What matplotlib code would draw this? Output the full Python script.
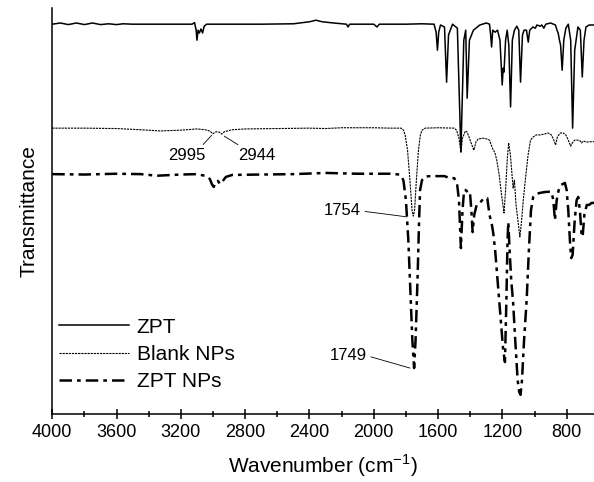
import matplotlib.pyplot as plt
from matplotlib.ticker import MultipleLocator

plt.rcParams['font.family'] = ['Liberation Sans', 'DejaVu Sans']
plt.rcParams['axes.unicode_minus'] = False

# Wavenumber (cm-1) and transmittance (a.u., offset spectra)
zpt_wn = [4000, 3950, 3900, 3850, 3800, 3750, 3700, 3650, 3600, 3560, 3500, 3400,
          3300, 3200, 3130, 3115, 3105, 3100, 3093, 3085, 3075, 3065, 3055, 3040,
          2900, 2700, 2500, 2400, 2360, 2320, 2250, 2170, 2160, 2150, 2000, 1980,
          1965, 1800, 1700, 1625, 1612, 1604, 1596, 1585, 1560, 1547, 1535, 1510,
          1480, 1458, 1440, 1428, 1419, 1405, 1380, 1340, 1300, 1280, 1273, 1267,
          1260, 1245, 1230, 1215, 1201, 1195, 1190, 1180, 1170, 1160, 1149, 1138,
          1125, 1110, 1098, 1087, 1075, 1065, 1050, 1039, 1030, 1010, 995, 985,
          965, 955, 942, 930, 900, 870, 860, 853, 845, 838, 828, 818, 805, 790,
          775, 763, 750, 730, 715, 703, 692, 680, 660, 640, 630]
zpt_t = [97.5, 97.8, 97.4, 97.8, 97.4, 97.8, 97.4, 97.6, 97.4, 97.6, 97.5, 97.5,
         97.5, 97.5, 97.5, 97.9, 96.0, 93.5, 96.0, 95.3, 96.3, 95.3, 97.0, 97.5,
         97.5, 97.5, 97.6, 98.1, 98.5, 98.1, 97.8, 97.5, 96.8, 97.5, 97.5, 96.8,
         97.5, 97.5, 97.6, 97.5, 95.5, 91.0, 95.5, 97.3, 96.8, 83.0, 94.8, 97.5,
         96.5, 65.5, 93.5, 96.0, 79.0, 93.5, 96.0, 97.3, 97.8, 97.5, 94.8, 91.8,
         96.0, 95.5, 96.0, 93.5, 82.3, 86.5, 85.5, 93.5, 96.0, 92.3, 76.8, 93.5,
         96.0, 97.0, 96.0, 83.0, 94.8, 96.0, 96.0, 93.0, 96.0, 96.8, 96.5, 97.3,
         97.0, 97.3, 96.5, 97.5, 97.8, 97.3, 96.0, 95.3, 93.5, 92.3, 86.0, 93.5,
         96.5, 97.5, 93.5, 71.5, 91.0, 96.8, 96.0, 84.3, 93.5, 96.8, 97.3, 97.3, 97.3]

blank_wn = [4000, 3800, 3600, 3450, 3330, 3200, 3100, 3050, 3020, 3002, 2980, 2960,
            2946, 2930, 2880, 2800, 2600, 2400, 2300, 2200, 2000, 1900, 1830, 1815,
            1805, 1790, 1775, 1762, 1754, 1746, 1735, 1722, 1710, 1700, 1680, 1600,
            1500, 1485, 1470, 1458, 1448, 1430, 1419, 1405, 1390, 1377, 1365, 1350,
            1320, 1298, 1280, 1262, 1246, 1235, 1220, 1205, 1190, 1180, 1170, 1161,
            1150, 1140, 1133, 1125, 1115, 1100, 1091, 1080, 1070, 1056, 1040, 1025,
            1008, 990, 967, 940, 915, 895, 880, 869, 858, 840, 822, 805, 790, 775,
            765, 750, 728, 715, 707, 695, 680, 655, 630]
blank_t = [71.5, 71.5, 71.4, 71.1, 70.8, 71.0, 71.3, 71.1, 70.8, 70.1, 70.6, 70.5,
           70.0, 70.6, 71.1, 71.3, 71.4, 71.5, 71.4, 71.6, 71.6, 71.5, 71.5, 71.0,
           69.8, 66.0, 58.5, 51.0, 49.5, 51.0, 58.5, 66.0, 69.8, 71.0, 71.5, 71.6,
           71.5, 71.0, 69.0, 65.5, 69.0, 70.8, 70.5, 69.0, 67.3, 66.0, 68.0, 68.8,
           69.0, 68.8, 68.5, 66.5, 65.3, 63.5, 59.8, 54.8, 50.3, 56.0, 63.5, 67.8,
           64.8, 59.8, 56.5, 58.5, 52.3, 47.3, 44.3, 48.5, 53.5, 59.0, 64.8, 68.5,
           69.3, 69.8, 69.8, 70.0, 70.3, 69.8, 68.5, 67.3, 69.3, 70.3, 70.3, 69.8,
           68.5, 67.0, 67.8, 68.5, 68.5, 68.3, 67.8, 68.3, 68.0, 68.1, 68.1]

nps_wn = [4000, 3800, 3600, 3450, 3350, 3200, 3100, 3040, 3020, 3005, 2995, 2985,
          2970, 2955, 2945, 2920, 2880, 2700, 2500, 2300, 2100, 1900, 1840, 1825,
          1815, 1800, 1785, 1770, 1760, 1749, 1740, 1728, 1718, 1712, 1700, 1680,
          1650, 1600, 1560, 1547, 1530, 1500, 1483, 1470, 1458, 1448, 1438, 1428,
          1415, 1402, 1393, 1385, 1375, 1360, 1340, 1315, 1294, 1280, 1265, 1257,
          1245, 1230, 1210, 1195, 1184, 1175, 1168, 1163, 1155, 1145, 1133, 1120,
          1105, 1095, 1087, 1078, 1065, 1049, 1035, 1022, 1008, 990, 967, 940,
          915, 894, 883, 873, 862, 850, 835, 811, 800, 790, 780, 772, 763, 750,
          738, 728, 718, 707, 701, 690, 675, 660, 645, 630]
nps_t = [60.0, 59.9, 60.1, 60.0, 59.6, 59.9, 60.0, 59.5, 58.8, 57.3, 56.8, 58.0,
         58.3, 57.5, 58.0, 59.3, 59.8, 59.9, 60.0, 60.3, 60.1, 60.1, 59.9, 59.3,
         58.3, 53.5, 43.5, 28.5, 18.5, 11.5, 18.5, 33.5, 48.5, 56.0, 58.5, 59.4,
         59.5, 59.5, 59.5, 59.3, 59.0, 59.0, 58.0, 53.5, 41.5, 51.0, 56.0, 56.0,
         55.5, 55.6, 51.0, 45.5, 49.8, 52.3, 52.8, 54.0, 54.0, 49.8, 47.3, 45.3,
         41.0, 33.5, 23.5, 16.0, 13.0, 28.5, 43.5, 48.0, 41.0, 33.5, 27.8, 18.5,
         8.5, 5.5, 4.8, 8.5, 18.5, 28.5, 41.0, 51.0, 54.3, 55.0, 55.3, 55.5,
         55.6, 55.5, 53.5, 48.5, 53.5, 56.0, 57.3, 57.8, 56.0, 51.0, 43.5, 39.0,
         39.8, 48.5, 53.5, 54.3, 51.0, 44.8, 44.3, 49.8, 52.3, 52.3, 52.8, 52.8]

fig = plt.figure(figsize=(5.94, 4.82), dpi=100)
ax = fig.add_axes([0.088, 0.141, 0.912, 0.842])

ax.plot(zpt_wn, zpt_t, color='black', lw=1.1, label='ZPT')
ax.plot(blank_wn, blank_t, color='black', lw=0.8, linestyle=(0, (2, 0.8)),
        label='Blank NPs')
ax.plot(nps_wn, nps_t, color='black', lw=1.8, linestyle=(0, (5, 2, 1.5, 2)),
        label='ZPT NPs')

# peak labels
line_kw = dict(arrowstyle='-', color='black', lw=0.6, shrinkA=1, shrinkB=0)
ax.annotate('2995', xy=(3009, 69.7), xytext=(3164, 64.6), ha='center', va='center',
            fontsize=12, arrowprops=dict(relpos=(0.85, 1.0), **line_kw))
ax.annotate('2944', xy=(2930, 69.5), xytext=(2729, 64.6), ha='center', va='center',
            fontsize=12, arrowprops=dict(relpos=(0.15, 1.0), **line_kw))
ax.annotate('1754', xy=(1792, 49.3), xytext=(2080, 50.8), ha='right', va='center',
            fontsize=12, arrowprops=dict(relpos=(1.0, 0.5), **line_kw))
ax.annotate('1749', xy=(1775, 11.5), xytext=(2044, 14.6), ha='right', va='center',
            fontsize=12, arrowprops=dict(relpos=(1.0, 0.5), **line_kw))

ax.set_xlim(4000, 630)
ax.set_ylim(0, 101.5)
ax.xaxis.set_major_locator(MultipleLocator(400))
ax.xaxis.set_minor_locator(MultipleLocator(200))
ax.tick_params(axis='x', which='major', direction='inout', length=7, width=1.1,
               labelsize=13, pad=4)
ax.tick_params(axis='x', which='minor', direction='inout', length=4, width=1.1)
ax.set_yticks([])
ax.spines['top'].set_visible(False)
ax.spines['right'].set_visible(False)
ax.spines['left'].set_linewidth(1.1)
ax.spines['bottom'].set_linewidth(1.1)

ax.set_xlabel('Wavenumber (cm$^{\\mathregular{-1}}$)', fontsize=15, labelpad=8)
ax.set_ylabel('Transmittance', fontsize=15, labelpad=10)

ax.legend(loc='upper left', bbox_to_anchor=(0.004, 0.248), frameon=False,
          fontsize=15, handlelength=3.4, handletextpad=0.35, labelspacing=0.4,
          borderaxespad=0, borderpad=0.2)

fig.savefig('out.png', dpi=100)
